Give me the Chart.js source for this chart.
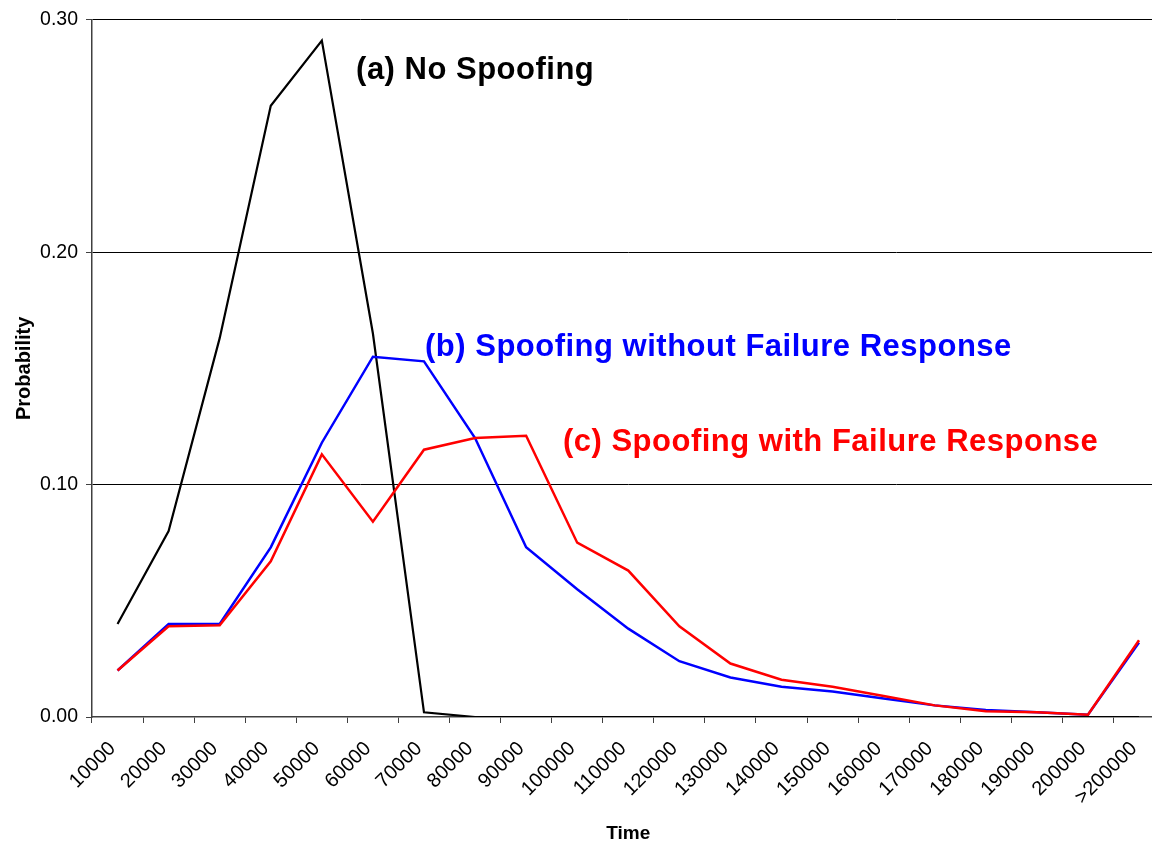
<!DOCTYPE html>
<html lang="en">
<head>
  <meta charset="UTF-8">
  <title>Spoofing probability</title>
  <style>
    html, body { margin: 0; padding: 0; background: #fff; overflow: hidden; }
    #wrap { width: 1170px; height: 842px; }
  </style>
</head>
<body>

<div id="wrap">
  <canvas id="myChart" width="1170" height="842"></canvas>
</div>

<script src="https://cdn.jsdelivr.net/npm/chart.js"></script>

<script>
  // categories on the x axis
  const timeLabels = ['10000', '20000', '30000', '40000', '50000', '60000', '70000',
    '80000', '90000', '100000', '110000', '120000', '130000', '140000', '150000',
    '160000', '170000', '180000', '190000', '200000', '>200000'];

  // (a) No Spoofing
  const noSpoofing = [0.040, 0.080, 0.163, 0.263, 0.291, 0.165, 0.002, 0.000, 0.000, 0.000,
    0.000, 0.000, 0.000, 0.000, 0.000, 0.000, 0.000, 0.000, 0.000, 0.000, 0.000];

  // (b) Spoofing without Failure Response
  const spoofNoResponse = [0.020, 0.040, 0.040, 0.073, 0.118, 0.155, 0.153, 0.120, 0.073, 0.055,
    0.038, 0.024, 0.017, 0.013, 0.011, 0.008, 0.005, 0.003, 0.002, 0.001, 0.032];

  // (c) Spoofing with Failure Response
  const spoofResponse = [0.020, 0.039, 0.0395, 0.067, 0.113, 0.084, 0.115, 0.120, 0.121, 0.075,
    0.063, 0.039, 0.023, 0.016, 0.013, 0.009, 0.005, 0.0025, 0.002, 0.001, 0.033];

  const yTicks = [0, 0.1, 0.2, 0.3];

  const font = "'Liberation Sans', Arial, sans-serif";

  // text labels placed in data units (category index, probability)
  const notes = [
    { text: '(a) No Spoofing', x: 4.67, y: 0.278, color: '#000000' },
    { text: '(b) Spoofing without Failure Response', x: 6.02, y: 0.159, color: '#0000ff' },
    { text: '(c) Spoofing with Failure Response', x: 8.72, y: 0.118, color: '#ff0000' }
  ];

  const notePlugin = {
    id: 'notes',
    afterDatasetsDraw(chart) {
      const c = chart.ctx;
      const xs = chart.scales.x, ys = chart.scales.y;
      c.save();
      c.font = 'bold 31px ' + font;
      c.letterSpacing = '0.5px';
      c.textAlign = 'left';
      c.textBaseline = 'middle';
      notes.forEach(n => {
        c.fillStyle = n.color;
        c.fillText(n.text, xs.getPixelForValue(n.x), ys.getPixelForValue(n.y));
      });
      c.restore();
    }
  };

  const ctx = document.getElementById('myChart').getContext('2d');
  const myChart = new Chart(ctx, {
    type: 'line',
    data: {
      labels: timeLabels,
      datasets: [
        { label: '(a) No Spoofing', data: noSpoofing, borderColor: '#000000', borderWidth: 2.2, order: 3 },
        { label: '(b) Spoofing without Failure Response', data: spoofNoResponse, borderColor: '#0000ff', borderWidth: 2.5, order: 2 },
        { label: '(c) Spoofing with Failure Response', data: spoofResponse, borderColor: '#ff0000', borderWidth: 2.5, order: 1 }
      ]
    },
    options: {
      responsive: false,
      animation: false,
      devicePixelRatio: 1,
      layout: { padding: { top: 18, right: 0, bottom: 0, left: 0 } },
      elements: { point: { radius: 0 }, line: { tension: 0, fill: false } },
      plugins: { legend: { display: false }, tooltip: { enabled: false } },
      scales: {
        x: {
          type: 'category',
          offset: true,
          grid: { offset: true, drawOnChartArea: false, tickLength: 6, tickColor: '#404040' },
          border: { color: '#404040', width: 1.5 },
          ticks: { minRotation: 45, maxRotation: 45, autoSkip: false, padding: 14, labelOffset: -5,
            color: '#000', font: { family: font, size: 20 } },
          title: { display: true, text: 'Time', color: '#000',
            font: { family: font, size: 19, weight: 'bold' }, padding: { top: 0, bottom: -3 } },
          afterFit: s => { s.height = 125; }
        },
        y: {
          min: 0,
          max: 0.3,
          afterBuildTicks: s => { s.ticks = yTicks.map(v => ({ value: v })); },
          grid: {
            color: c => (c.tick && c.tick.value === 0 ? 'rgba(0,0,0,0)' : '#000000'),
            lineWidth: 1, tickLength: 6, tickColor: '#404040'
          },
          border: { color: '#404040', width: 1.5 },
          ticks: { padding: 8, color: '#000', font: { family: font, size: 19.5 },
            callback: v => Number(v).toFixed(2) },
          title: { display: true, text: 'Probability', color: '#000',
            font: { family: font, size: 20, weight: 'bold' }, padding: { top: 12, bottom: 0 } },
          afterFit: s => { s.width = 92; }
        }
      }
    },
    plugins: [notePlugin]
  });
</script>
</body>
</html>
